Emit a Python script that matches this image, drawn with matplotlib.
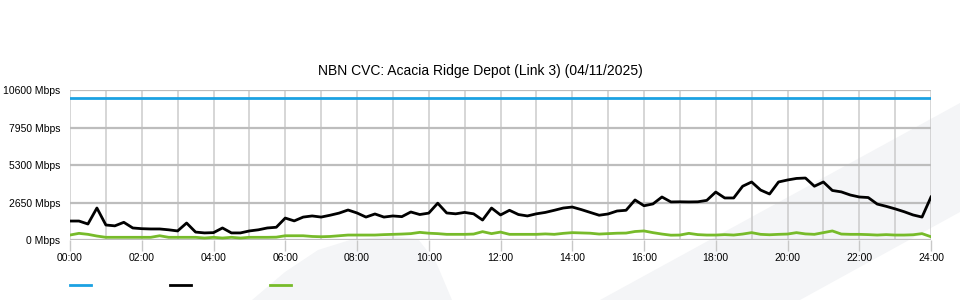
import numpy as np
import matplotlib
matplotlib.use("Agg")
import matplotlib.pyplot as plt
from matplotlib.patches import Polygon
from matplotlib.lines import Line2D

plt.rcParams.update({
    "font.family": ["Liberation Sans", "DejaVu Sans"],
    "font.size": 7.5,
})

# 15-minute samples across the day, Mbps
hours = np.arange(0, 24.01, 0.25)

capacity = [10000] * len(hours)

traffic_in = [
    1340, 1340, 1130, 2260, 1060, 1000, 1250, 850,
    800, 780, 780, 720, 640, 1200, 560, 500,
    520, 850, 500, 500, 640, 720, 850, 900,
    1550, 1350, 1620, 1700, 1620, 1750, 1900, 2120,
    1910, 1620, 1840, 1620, 1700, 1650, 1980, 1800,
    1900, 2600, 1910, 1850, 1950, 1850, 1410, 2260,
    1770, 2100, 1800, 1700, 1850, 1950, 2100, 2260,
    2330, 2150, 1950, 1750, 1840, 2050, 2100, 2830,
    2420, 2550, 3040, 2690, 2700, 2690, 2700, 2800,
    3390, 2970, 2970, 3800, 4100, 3530, 3250, 4100,
    4240, 4350, 4380, 3800, 4100, 3500, 3400, 3180,
    3040, 3000, 2540, 2380, 2200, 2000, 1770, 1620,
    3040,
]

traffic_out = [
    350, 470, 400, 280, 190, 190, 190, 190,
    190, 190, 300, 190, 190, 190, 190, 140,
    190, 140, 190, 140, 190, 190, 190, 200,
    300, 300, 300, 250, 230, 250, 300, 350,
    350, 350, 350, 380, 400, 420, 450, 540,
    480, 450, 400, 400, 400, 420, 590, 450,
    560, 400, 400, 400, 400, 430, 400, 470,
    520, 500, 480, 420, 450, 480, 490, 600,
    640, 520, 420, 340, 350, 470, 380, 350,
    350, 380, 350, 420, 520, 400, 370, 400,
    420, 520, 430, 400, 520, 640, 420, 400,
    400, 380, 350, 380, 350, 350, 370, 450,
    230,
]

y_ticks = [0, 2650, 5300, 7950, 10600]
x_ticks = list(range(0, 25, 2))
x_labels = [f"{h:02d}:00" for h in x_ticks]

BLUE = "#1ba1e2"
BLACK = "#000000"
GREEN = "#77bb2a"

fig = plt.figure(figsize=(9.6, 3.0), dpi=100)

# faint background watermark shapes (figure pixels, origin top-left)
W, H = 960, 300
def fpoly(pts):
    return Polygon([(x / W, 1 - y / H) for x, y in pts], closed=True,
                   transform=fig.transFigure, facecolor="#f4f5f7",
                   edgecolor="none", zorder=-5)

fig.patches.append(fpoly([(600, 300), (960, 103), (960, 212), (800, 300)]))
fig.patches.append(fpoly([(252, 300), (285, 272), (318, 250), (350, 240),
                          (390, 236), (418, 239), (436, 262), (452, 300)]))

ax = fig.add_axes([70 / W, 1 - 240 / H, (931 - 70) / W, 150 / H])
ax.set_facecolor("none")
ax.set_zorder(2)

ax.plot(hours, capacity, color=BLUE, lw=2, zorder=3)
ax.plot(hours, traffic_in, color=BLACK, lw=2, zorder=4)
ax.plot(hours, traffic_out, color=GREEN, lw=2, zorder=3)

ax.set_xlim(0, 24)
ax.set_ylim(0, 10600)
ax.set_yticks(y_ticks)
ax.set_yticklabels([f"{v} Mbps" for v in y_ticks])
ax.set_xticks(x_ticks)
ax.set_xticklabels(x_labels)
ax.set_xticks(range(0, 25), minor=True)

for s in ax.spines.values():
    s.set_visible(False)

ax.grid(axis="y", which="major", color="#bdbdbd", lw=1.6, zorder=1)
ax.grid(axis="x", which="both", color="#cbcbcb", lw=1.1, zorder=1)
ax.tick_params(axis="y", length=0, pad=7, labelsize=7.5)
ax.tick_params(axis="x", which="major", length=8, width=1, color="#c8c8c8",
               pad=1.5, labelsize=7.5)
ax.tick_params(axis="x", which="minor", length=0)

fig.text(0.5, 1 - 71 / H, "NBN CVC: Acacia Ridge Depot (Link 3) (04/11/2025)",
         ha="center", va="center", fontsize=10)

# legend swatches without labels
for x0, col in [(70, BLUE), (170, BLACK), (270, GREEN)]:
    fig.add_artist(Line2D([x0 / W, (x0 + 21) / W], [1 - 285 / H] * 2,
                          color=col, lw=2, transform=fig.transFigure))

fig.savefig("out.png", dpi=100)
